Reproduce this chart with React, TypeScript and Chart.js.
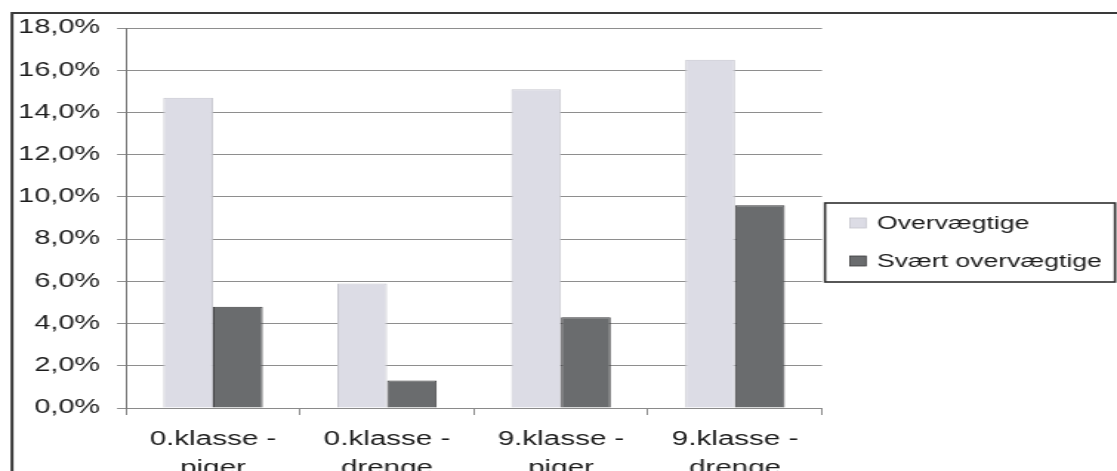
import { useEffect, useRef } from "react";
import { Chart, registerables } from "chart.js";

Chart.register(...registerables);

// Categories (two-line axis labels)
const categories: string[][] = [
  ["0.klasse -", "piger"],
  ["0.klasse -", "drenge"],
  ["9.klasse -", "piger"],
  ["9.klasse -", "drenge"],
];

// Series values in percent
const seriesNames = ["Overvægtige", "Svært overvægtige"];
const overweight = [14.7, 5.9, 15.1, 16.5];
const severelyOverweight = [4.8, 1.3, 4.3, 9.6];

// Value axis range
const yMin = 0;
const yMax = 18;
const yStep = 2;

// The drawing is laid out on a narrower canvas and widened horizontally,
// which gives the broad lettering of the original spreadsheet print.
const PAGE_W = 1117;
const PAGE_H = 471;
const CANVAS_W = 755;
const STRETCH = PAGE_W / CANVAS_W;
const sx = (px: number) => px / STRETCH;

const FONT = "'Liberation Sans', Arial, Helvetica, sans-serif";
const TEXT = "#1c1c1c";
const LIGHT = "#dcdce5";
const DARK = "#6a6c6e";

const pageFrame = {
  id: "pageFrame",
  beforeDraw(chart: Chart) {
    const ctx = chart.ctx;
    ctx.save();
    ctx.strokeStyle = "#3a3a3a";
    ctx.lineWidth = 2;
    ctx.beginPath();
    ctx.moveTo(sx(12), PAGE_H + 5);
    ctx.lineTo(sx(12), 13);
    ctx.lineTo(CANVAS_W + 5, 13);
    ctx.stroke();
    ctx.restore();
  },
};

const framedLegend = {
  id: "framedLegend",
  afterDraw(chart: Chart) {
    const ctx = chart.ctx;
    const area = chart.chartArea;
    const left = area.right + sx(3);
    const right = CANVAS_W - sx(2);
    const top = 203;
    const bottom = 282;
    ctx.save();
    ctx.strokeStyle = "#2e2e2e";
    ctx.lineWidth = 1.6;
    ctx.strokeRect(left, top, right - left, bottom - top);

    const rows = [223, 261];
    chart.data.datasets.forEach((ds, i) => {
      const y = rows[i];
      ctx.fillStyle = ds.backgroundColor as string;
      ctx.strokeStyle = ds.borderColor as string;
      ctx.lineWidth = 0.8;
      ctx.fillRect(left + sx(25), y - 5, sx(16), 10);
      ctx.strokeRect(left + sx(25), y - 5, sx(16), 10);
      ctx.fillStyle = TEXT;
      ctx.font = `18px ${FONT}`;
      ctx.textBaseline = "middle";
      ctx.textAlign = "left";
      ctx.fillText(ds.label as string, left + sx(52), y + 1);
    });
    ctx.restore();
  },
};

export default function App() {
  const canvasRef = useRef<HTMLCanvasElement | null>(null);

  useEffect(() => {
    if (!canvasRef.current) return;
    const chart = new Chart(canvasRef.current, {
      type: "bar",
      data: {
        labels: categories,
        datasets: [
          {
            label: seriesNames[0],
            data: overweight,
            backgroundColor: LIGHT,
            borderColor: "#c6c6ce",
            borderWidth: 1,
            categoryPercentage: 2 / 3.5,
            barPercentage: 1,
          },
          {
            label: seriesNames[1],
            data: severelyOverweight,
            backgroundColor: DARK,
            borderColor: "#3c3c3e",
            borderWidth: 1,
            categoryPercentage: 2 / 3.5,
            barPercentage: 1,
          },
        ],
      },
      options: {
        animation: false,
        responsive: true,
        maintainAspectRatio: false,
        layout: {
          padding: { top: 28, right: CANVAS_W - sx(822), bottom: 0, left: 0 },
        },
        plugins: {
          legend: { display: false },
          tooltip: { enabled: false },
        },
        scales: {
          x: {
            grid: {
              offset: true,
              drawOnChartArea: false,
              drawTicks: true,
              tickLength: 7,
              color: "#8a8a8a",
            },
            border: { display: true, color: "#8a8a8a", width: 1 },
            ticks: {
              color: TEXT,
              font: { family: FONT, size: 20, lineHeight: 1.43 },
              padding: 10.5,
              maxRotation: 0,
              autoSkip: false,
            },
            afterFit: (scale: any) => {
              scale.height = PAGE_H - 408;
            },
          },
          y: {
            min: yMin,
            max: yMax,
            ticks: {
              stepSize: yStep,
              color: TEXT,
              font: { family: FONT, size: 19.5 },
              padding: 11.5,
              callback: (v: any) => Number(v).toFixed(1).replace(".", ",") + "%",
            },
            grid: {
              color: "#8e8e8e",
              lineWidth: 1,
              drawTicks: true,
              tickLength: sx(9),
            },
            border: { display: true, color: "#7a7a7a", width: 1 },
            afterFit: (scale: any) => {
              scale.width = sx(126);
            },
          },
        },
      },
      plugins: [pageFrame, framedLegend],
    });
    return () => chart.destroy();
  }, []);

  return (
    <div
      style={{
        position: "fixed",
        left: 0,
        top: 0,
        width: PAGE_W,
        height: PAGE_H,
        overflow: "hidden",
        background: "#ffffff",
      }}
    >
      <div
        style={{
          width: CANVAS_W,
          height: PAGE_H,
          transform: `scaleX(${STRETCH})`,
          transformOrigin: "0 0",
        }}
      >
        <canvas ref={canvasRef} />
      </div>
    </div>
  );
}
